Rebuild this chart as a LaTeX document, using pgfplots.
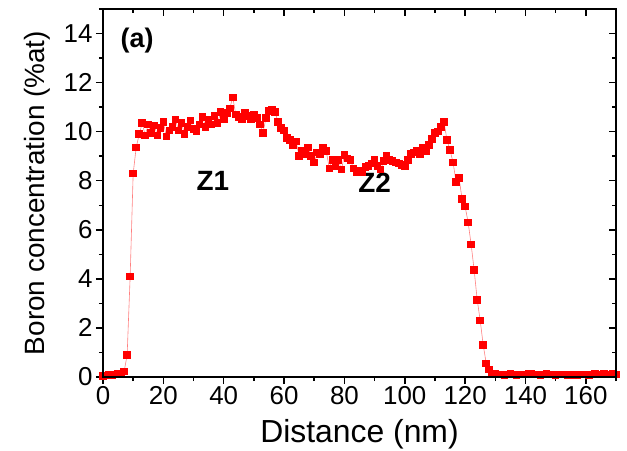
\documentclass[border=0pt]{standalone}
\usepackage{fontspec}
\setmainfont{Liberation Sans}
\usepackage{pgfplots}
\pgfplotsset{compat=1.18}
\usepackage{pgfplotstable}
\pgfplotstableread{
x y
0 0.05
1 0.06
2 0.08
3 0.08
4 0.10
5 0.12
6 0.15
7 0.22
8 0.9
9 4.1
10 8.3
11 9.35
12 9.9
13 10.35
14 9.85
15 10.3
16 9.95
17 10.25
18 9.85
19 10.15
20 10.4
21 9.8
22 10.05
23 10.2
24 10.5
25 10.05
26 10.35
27 9.9
28 10.2
29 10.45
30 10.1
31 10.0
32 10.3
33 10.6
34 10.2
35 10.5
36 10.3
37 10.65
38 10.35
39 10.8
40 10.5
41 10.75
42 10.95
43 11.4
44 10.7
45 10.6
46 10.5
47 10.75
48 10.65
49 10.5
50 10.7
51 10.55
52 10.3
53 9.95
54 10.55
55 10.85
56 10.9
57 10.8
58 10.4
59 10.15
60 10.05
61 9.75
62 9.65
63 9.45
64 9.6
65 9.0
66 9.2
67 9.1
68 9.35
69 9.0
70 8.75
71 9.15
72 9.1
73 9.35
74 9.2
75 8.5
76 8.85
77 8.6
78 8.85
79 8.45
80 9.05
81 8.9
82 8.85
83 8.5
84 8.35
85 8.4
86 8.35
87 8.55
88 8.6
89 8.7
90 8.85
91 8.6
92 8.45
93 8.8
94 9.0
95 8.85
96 8.8
97 8.75
98 8.7
99 8.65
100 8.6
101 8.85
102 9.1
103 9.15
104 9.2
105 9.1
106 9.35
107 9.2
108 9.45
109 9.7
110 9.95
111 10.0
112 10.2
113 10.4
114 9.65
115 9.25
116 8.75
117 7.95
118 8.1
119 7.25
120 6.95
121 6.3
122 5.4
123 4.35
124 3.15
125 2.3
126 1.3
127 0.55
128 0.3
129 0.15
130 0.12
131 0.10
132 0.11
133 0.09
134 0.10
135 0.12
136 0.10
137 0.09
138 0.11
139 0.10
140 0.10
141 0.12
142 0.13
143 0.11
144 0.10
145 0.09
146 0.10
147 0.12
148 0.11
149 0.10
150 0.09
151 0.10
152 0.11
153 0.10
154 0.09
155 0.10
156 0.08
157 0.09
158 0.10
159 0.11
160 0.10
161 0.09
162 0.10
163 0.12
164 0.11
165 0.10
166 0.12
167 0.11
168 0.10
169 0.12
170 0.11
}\boron
\begin{document}
\begin{tikzpicture}
\pgfplotsset{
  common/.style={
    width=513bp, height=368bp, scale only axis,
    xmin=0, xmax=170, ymin=0, ymax=15,
    xtick={0,20,...,160}, minor xtick={10,30,...,170},
    ytick={0,2,...,14}, minor ytick={1,3,...,15},
    axis line style={line width=1.8bp},
    every tick/.style={black, line width=1.5bp},
    major tick length=7bp, minor tick length=4bp,
  }
}
\begin{axis}[common, name=ax,
  xtick pos=left, ytick pos=left, tick align=outside,
  /pgf/number format/assume math mode=true,
  ticklabel style={font=\fontsize{26}{29}\selectfont},
  xticklabel style={yshift=1bp},
  xlabel={Distance (nm)}, ylabel={Boron concentration (\%at)},
  xlabel style={font=\fontsize{32}{36}\selectfont, at={(axis description cs:0.5,-0.179)}, anchor=base},
  ylabel style={font=\fontsize{28}{32}\selectfont, at={(axis description cs:-0.1287,0.5)}, anchor=center},
  clip=false,
]
\addplot[color=red!50, line width=0.6bp, mark=square*, mark size=3.3bp,
  mark options={draw=red, fill=red, line width=0pt}] table[x=x, y=y] {\boron};
\node[font=\bfseries\fontsize{27}{30}\selectfont] at (axis cs:11.3,13.7) {(a)};
\node[font=\bfseries\fontsize{28}{31}\selectfont] at (axis cs:36.4,8.0) {Z1};
\node[font=\bfseries\fontsize{28}{31}\selectfont] at (axis cs:90,7.9) {Z2};
\end{axis}
\begin{axis}[common,
  xtick pos=right, ytick pos=right, tick align=inside,
  xticklabels={}, yticklabels={},
]
\end{axis}
\pgfresetboundingbox
\path[use as bounding box] ([shift={(-103bp,-74bp)}]ax.south west) rectangle ([shift={(11bp,9bp)}]ax.north east);
\end{tikzpicture}
\end{document}
